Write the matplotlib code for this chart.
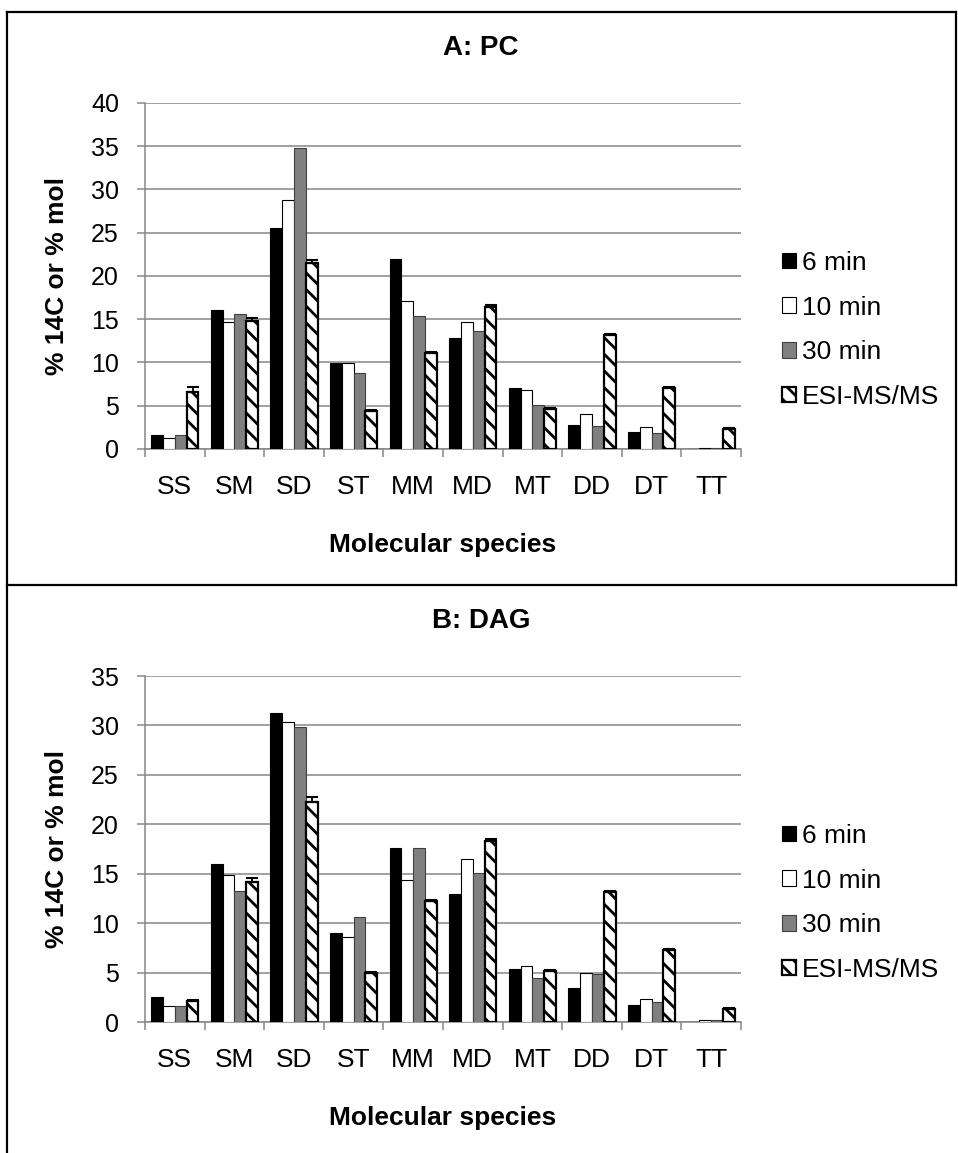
import matplotlib
matplotlib.use("Agg")
import matplotlib.pyplot as plt
import numpy as np
from matplotlib.patches import Patch
from matplotlib.lines import Line2D

plt.rcParams['font.family'] = ['Liberation Sans', 'DejaVu Sans']
plt.rcParams['hatch.linewidth'] = 2.0

categories = ["SS", "SM", "SD", "ST", "MM", "MD", "MT", "DD", "DT", "TT"]
series_names = ["6 min", "10 min", "30 min", "ESI-MS/MS"]

# Panel A: PC
pc_6 = [1.6, 16.1, 25.6, 9.9, 22.0, 12.8, 7.0, 2.8, 2.0, 0.0]
pc_10 = [1.3, 14.7, 28.8, 9.9, 17.1, 14.7, 6.8, 4.0, 2.5, 0.1]
pc_30 = [1.6, 15.6, 34.8, 8.8, 15.4, 13.6, 5.1, 2.7, 1.9, 0.15]
pc_esi = [6.6, 14.8, 21.5, 4.4, 11.1, 16.4, 4.6, 13.2, 7.0, 2.3]
pc_esi_err = [0.6, 0.3, 0.4, 0.1, 0.1, 0.2, 0.1, 0.15, 0.15, 0.15]

# Panel B: DAG
dag_6 = [2.5, 16.0, 31.3, 9.0, 17.6, 12.9, 5.4, 3.4, 1.7, 0.0]
dag_10 = [1.6, 14.9, 30.3, 8.6, 14.4, 16.5, 5.7, 5.0, 2.3, 0.2]
dag_30 = [1.6, 13.3, 29.8, 10.6, 17.6, 15.1, 4.5, 4.9, 2.0, 0.2]
dag_esi = [2.1, 14.2, 22.3, 5.0, 12.2, 18.3, 5.2, 13.2, 7.3, 1.3]
dag_esi_err = [0.1, 0.35, 0.5, 0.1, 0.1, 0.2, 0.1, 0.1, 0.1, 0.1]

W, H = 958, 1153
fig = plt.figure(figsize=(W / 100, H / 100), dpi=100)

GRID = "#868686"
styles = [
    dict(facecolor="black", edgecolor="black", linewidth=0.8),
    dict(facecolor="white", edgecolor="black", linewidth=0.8),
    dict(facecolor="#808080", edgecolor="#404040", linewidth=0.8),
    dict(facecolor="white", edgecolor="black", linewidth=1.6, hatch="\\\\"),
]


def px_rect(left, top, right, bottom):
    return [left / W, 1 - bottom / H, (right - left) / W, (bottom - top) / H]


def panel(rect, title, dy, vals, err, ymax):
    ax = fig.add_axes(px_rect(*rect))
    x = np.arange(len(categories))
    w = 0.198
    for i, (v, st) in enumerate(zip(vals, styles)):
        ax.bar(x + (i - 1.5) * w, v, width=w, zorder=3, **st)
    ax.errorbar(x + 1.5 * w, vals[3], yerr=[np.zeros(len(err)), err],
                fmt="none", ecolor="black", elinewidth=1.3, capsize=4,
                capthick=1.5, zorder=4)
    ax.set_xlim(-0.5, len(categories) - 0.5)
    ax.set_ylim(0, ymax)
    ax.set_yticks(np.arange(0, ymax + 1, 5))
    ax.yaxis.grid(True, color=GRID, linewidth=1.1, zorder=0)
    ax.set_axisbelow(True)
    for s in ("top", "right"):
        ax.spines[s].set_visible(False)
    for s in ("left", "bottom"):
        ax.spines[s].set_color(GRID)
        ax.spines[s].set_linewidth(1.1)
    ax.set_xticks(np.arange(-0.5, len(categories), 1.0))
    ax.set_xticklabels([])
    ax.set_xticks(x, minor=True)
    ax.set_xticklabels(categories, minor=True)
    ax.tick_params(axis="x", which="major", length=5.5, color=GRID, width=1.1)
    ax.tick_params(axis="x", which="minor", length=0, pad=19, labelsize=19)
    ax.tick_params(axis="y", length=5.8, color=GRID, width=1.1, pad=13,
                   labelsize=18)
    # axis titles and chart title
    fig.text(443 / W, 1 - (545 + dy) / H, "Molecular species",
             ha="center", va="center", fontsize=19, fontweight="bold")
    fig.text(57 / W, 1 - (276 + dy) / H, "% 14C or % mol", rotation=90,
             ha="center", va="center", fontsize=19, fontweight="bold")
    fig.text(481 / W, 1 - (48 + dy) / H, title,
             ha="center", va="center", fontsize=20, fontweight="bold")
    handles = [Patch(**st) for st in styles]
    fig.legend(handles, series_names, loc="upper left",
               bbox_to_anchor=(782 / W, 1 - (251 + dy) / H),
               frameon=False, fontsize=19, handlelength=0.53,
               handleheight=0.53, handletextpad=0.23, labelspacing=0.78,
               borderaxespad=0, borderpad=0)
    return ax


panel((145, 103, 741, 449), "A: PC", 0, [pc_6, pc_10, pc_30, pc_esi],
      pc_esi_err, 40)
panel((145, 676, 741, 1022), "B: DAG", 573, [dag_6, dag_10, dag_30, dag_esi],
      dag_esi_err, 35)

# outer panel borders
lw = 1.6
def fline(x0, y0, x1, y1):
    fig.add_artist(Line2D([x0 / W, x1 / W], [1 - y0 / H, 1 - y1 / H],
                          color="black", linewidth=lw))

fline(7, 12, 956, 12)
fline(7, 12, 7, 1153)
fline(956, 12, 956, 585)
fline(7, 585, 956, 585)

fig.savefig("out.png", dpi=100)
